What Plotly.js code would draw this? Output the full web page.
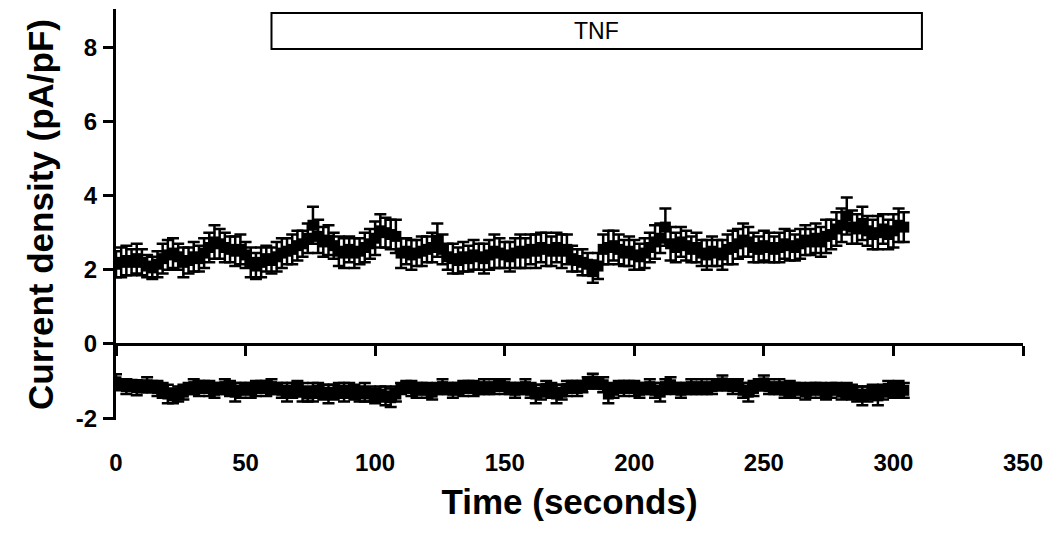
<!DOCTYPE html>
<html>
<head>
<meta charset="utf-8">
<script src="https://cdn.plot.ly/plotly-3.0.1.min.js"></script>
<style>html,body{margin:0;padding:0;background:#fff;}#chart{width:1050px;height:537px;}</style>
</head>
<body>
<div id="chart"></div>
<script>
// Sampling times (s)
var timeSec = [
  0,2,4,6,8,10,12,14,16,18,
  20,22,24,26,28,30,32,34,36,38,
  40,42,44,46,48,50,52,54,56,58,
  60,62,64,66,68,70,72,74,76,78,
  80,82,84,86,88,90,92,94,96,98,
  100,102,104,106,108,110,112,114,116,118,
  120,122,124,126,128,130,132,134,136,138,
  140,142,144,146,148,150,152,154,156,158,
  160,162,164,166,168,170,172,174,176,178,
  180,182,184,186,188,190,192,194,196,198,
  200,202,204,206,208,210,212,214,216,218,
  220,222,224,226,228,230,232,234,236,238,
  240,242,244,246,248,250,252,254,256,258,
  260,262,264,266,268,270,272,274,276,278,
  280,282,284,286,288,290,292,294,296,298,
  300,302,304
];
// Outward current density (pA/pF)
var outwardCurrent = [
  2.15,2.2,2.25,2.2,2.3,2.2,2.1,2.05,2.15,2.3,
  2.4,2.45,2.35,2.2,2.25,2.35,2.3,2.45,2.6,2.75,
  2.7,2.6,2.55,2.5,2.55,2.4,2.2,2.1,2.2,2.3,
  2.25,2.35,2.45,2.5,2.55,2.65,2.7,2.85,3.2,2.9,
  2.75,2.8,2.65,2.5,2.45,2.55,2.45,2.5,2.6,2.7,
  2.85,3.05,3.0,2.95,2.9,2.45,2.5,2.4,2.45,2.5,
  2.55,2.6,2.8,2.55,2.35,2.3,2.25,2.35,2.3,2.4,
  2.35,2.3,2.4,2.5,2.45,2.4,2.35,2.45,2.5,2.45,
  2.55,2.5,2.6,2.55,2.5,2.6,2.5,2.55,2.3,2.25,
  2.2,2.15,1.95,2.1,2.55,2.6,2.65,2.55,2.45,2.5,
  2.4,2.35,2.45,2.6,2.75,2.85,3.15,2.7,2.6,2.75,
  2.65,2.55,2.6,2.45,2.4,2.5,2.45,2.4,2.55,2.6,
  2.7,2.8,2.75,2.6,2.55,2.65,2.6,2.55,2.6,2.7,
  2.65,2.6,2.7,2.8,2.75,2.85,2.75,2.9,2.95,3.1,
  3.2,3.45,3.15,3.1,3.25,3.05,2.95,3.0,3.1,2.95,
  3.05,3.2,3.15
];
var outwardSEM = [
  0.35,0.4,0.4,0.35,0.4,0.35,0.3,0.3,0.35,0.4,
  0.4,0.4,0.35,0.4,0.35,0.4,0.35,0.4,0.4,0.45,
  0.4,0.4,0.35,0.4,0.4,0.35,0.4,0.35,0.4,0.35,
  0.35,0.4,0.4,0.35,0.4,0.4,0.35,0.4,0.5,0.45,
  0.4,0.4,0.35,0.4,0.4,0.35,0.4,0.35,0.4,0.4,
  0.45,0.45,0.4,0.4,0.45,0.4,0.35,0.4,0.35,0.4,
  0.35,0.4,0.45,0.4,0.35,0.4,0.35,0.4,0.35,0.4,
  0.35,0.4,0.4,0.45,0.4,0.35,0.4,0.4,0.45,0.4,
  0.4,0.45,0.4,0.45,0.4,0.4,0.45,0.4,0.35,0.3,
  0.35,0.3,0.3,0.35,0.4,0.45,0.4,0.4,0.35,0.4,
  0.4,0.35,0.4,0.4,0.45,0.4,0.5,0.45,0.4,0.4,
  0.4,0.35,0.4,0.35,0.4,0.4,0.35,0.4,0.4,0.45,
  0.4,0.45,0.4,0.4,0.35,0.4,0.4,0.35,0.4,0.4,
  0.4,0.35,0.4,0.4,0.35,0.4,0.4,0.45,0.4,0.45,
  0.45,0.5,0.45,0.4,0.45,0.4,0.4,0.45,0.4,0.4,
  0.45,0.45,0.4
];
// Inward current density (pA/pF)
var inwardCurrent = [
  -1.02,-1.1,-1.15,-1.12,-1.18,-1.15,-1.1,-1.15,-1.2,-1.25,
  -1.35,-1.4,-1.35,-1.3,-1.2,-1.15,-1.2,-1.15,-1.2,-1.25,
  -1.2,-1.15,-1.2,-1.3,-1.25,-1.2,-1.25,-1.2,-1.15,-1.2,
  -1.15,-1.2,-1.25,-1.3,-1.25,-1.2,-1.3,-1.35,-1.3,-1.25,
  -1.3,-1.35,-1.3,-1.25,-1.3,-1.25,-1.3,-1.35,-1.3,-1.35,
  -1.4,-1.35,-1.4,-1.45,-1.35,-1.2,-1.15,-1.2,-1.25,-1.2,
  -1.25,-1.3,-1.2,-1.15,-1.2,-1.25,-1.2,-1.2,-1.15,-1.2,
  -1.2,-1.15,-1.2,-1.15,-1.1,-1.15,-1.2,-1.25,-1.2,-1.15,
  -1.25,-1.35,-1.3,-1.2,-1.25,-1.35,-1.3,-1.2,-1.15,-1.2,
  -1.15,-1.05,-1.0,-1.05,-1.1,-1.35,-1.25,-1.15,-1.2,-1.15,
  -1.2,-1.25,-1.2,-1.15,-1.25,-1.3,-1.15,-1.1,-1.2,-1.25,
  -1.2,-1.15,-1.2,-1.15,-1.2,-1.15,-1.1,-1.05,-1.1,-1.15,
  -1.1,-1.25,-1.3,-1.2,-1.1,-1.05,-1.15,-1.2,-1.15,-1.25,
  -1.2,-1.25,-1.2,-1.3,-1.25,-1.2,-1.25,-1.3,-1.25,-1.2,
  -1.3,-1.25,-1.3,-1.35,-1.4,-1.35,-1.3,-1.4,-1.3,-1.2,
  -1.25,-1.2,-1.25
];
var inwardSEM = [
  0.2,0.15,0.2,0.15,0.2,0.15,0.2,0.15,0.2,0.2,
  0.25,0.2,0.2,0.2,0.15,0.2,0.2,0.15,0.2,0.2,
  0.15,0.2,0.2,0.25,0.2,0.15,0.2,0.2,0.15,0.2,
  0.2,0.15,0.2,0.25,0.2,0.2,0.25,0.2,0.25,0.2,
  0.2,0.25,0.2,0.2,0.25,0.2,0.2,0.2,0.25,0.2,
  0.2,0.2,0.25,0.25,0.2,0.15,0.15,0.2,0.2,0.15,
  0.2,0.2,0.15,0.2,0.15,0.2,0.15,0.2,0.15,0.2,
  0.15,0.2,0.15,0.2,0.15,0.2,0.15,0.2,0.15,0.2,
  0.2,0.25,0.2,0.2,0.2,0.25,0.2,0.2,0.15,0.2,
  0.15,0.15,0.2,0.15,0.2,0.25,0.2,0.15,0.2,0.15,
  0.2,0.2,0.15,0.2,0.2,0.25,0.2,0.2,0.15,0.2,
  0.15,0.2,0.15,0.2,0.15,0.2,0.15,0.2,0.15,0.2,
  0.15,0.2,0.25,0.2,0.15,0.2,0.2,0.15,0.2,0.2,
  0.2,0.2,0.15,0.2,0.2,0.15,0.2,0.2,0.2,0.15,
  0.2,0.2,0.2,0.2,0.25,0.2,0.2,0.25,0.2,0.2,
  0.2,0.2,0.2
];
var xTicks = [0,50,100,150,200,250,300,350];
var yTicks = [-2,0,2,4,6,8];
var tnfStart = 60, tnfEnd = 311;
var tnfLabel = 'TNF';

var FONT = 'Liberation Sans, Arial, Helvetica, sans-serif';
var yMin = -2.05, yMax = 9.03;

function series(y, err) {
  return {
    x: timeSec, y: y, type: 'scatter', mode: 'markers',
    marker: {symbol: 'square', size: 11, color: '#000'},
    error_y: {type: 'data', array: err, visible: true, color: '#000', thickness: 2.5, width: 6},
    showlegend: false, hoverinfo: 'x+y'
  };
}

var data = [series(outwardCurrent, outwardSEM), series(inwardCurrent, inwardSEM)];

var layout = {
  width: 1050, height: 537,
  margin: {l: 116, r: 27, t: 9, b: 117},
  paper_bgcolor: '#fff', plot_bgcolor: '#fff',
  font: {family: FONT, color: '#000'},
  showlegend: false,
  xaxis: {
    range: [0, 350], tickvals: xTicks, ticktext: xTicks.map(String),
    anchor: 'free', position: (0 - yMin) / (yMax - yMin),
    showline: true, linewidth: 3, linecolor: '#000',
    ticks: 'outside', ticklen: 10, tickwidth: 3, tickcolor: '#000',
    ticklabelstandoff: 86,
    showgrid: false, zeroline: false,
    tickfont: {size: 24, weight: 'bold', family: FONT},
    title: {text: 'Time (seconds)', font: {size: 35, weight: 'bold', family: FONT}, standoff: 14}
  },
  yaxis: {
    range: [yMin, yMax], tickvals: yTicks, ticktext: yTicks.map(String),
    showline: true, linewidth: 3, linecolor: '#000',
    ticks: 'outside', ticklen: 10, tickwidth: 3, tickcolor: '#000',
    ticklabelstandoff: 1,
    showgrid: false, zeroline: false,
    tickfont: {size: 24, weight: 'bold', family: FONT},
    title: {text: 'Current density (pA/pF)', font: {size: 35, weight: 'bold', family: FONT}, standoff: 12}
  },
  shapes: [{
    type: 'rect', xref: 'x', yref: 'y', x0: tnfStart, x1: tnfEnd, y0: 7.95, y1: 8.92,
    line: {color: '#000', width: 2}, fillcolor: 'rgba(0,0,0,0)'
  }],
  annotations: [{
    xref: 'x', yref: 'y', x: (tnfStart + tnfEnd) / 2, y: 8.435, text: tnfLabel,
    showarrow: false, font: {size: 23, family: FONT, color: '#000'}
  }]
};

Plotly.newPlot('chart', data, layout, {displayModeBar: false, staticPlot: true});
</script>
</body>
</html>
